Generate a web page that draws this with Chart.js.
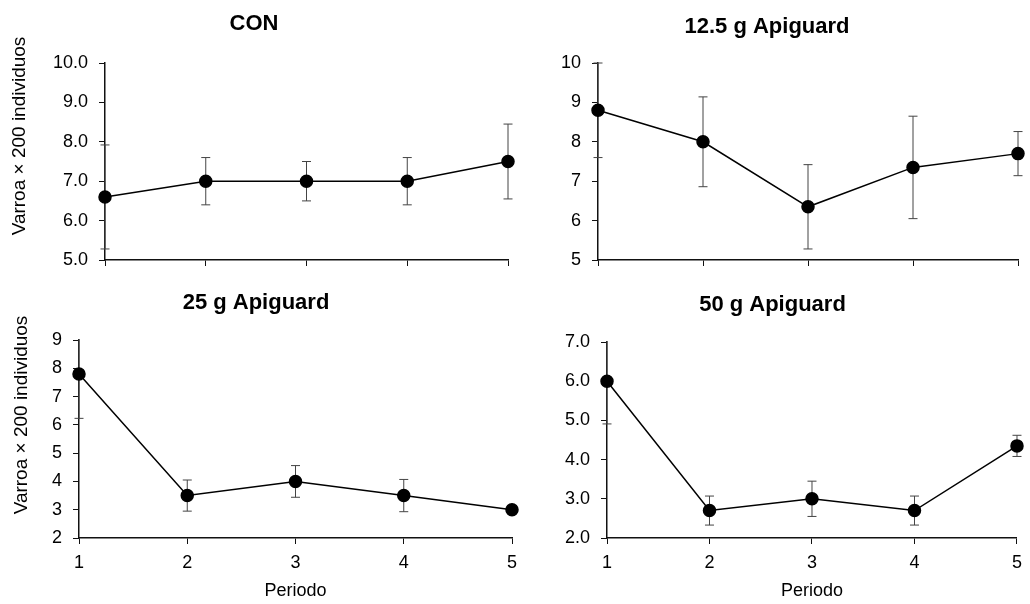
<!DOCTYPE html>
<html>
<head>
<meta charset="utf-8">
<script src="https://cdn.jsdelivr.net/npm/chart.js@4.4.1/dist/chart.umd.min.js"></script>
<style>
  body { margin: 0; background: #fff; }
  #wrap { position: relative; width: 1030px; height: 604px; overflow: hidden; }
  canvas { position: absolute; }
</style>
</head>
<body>
<div id="wrap">
  <canvas id="c1" width="536" height="290" style="left:0;top:0"></canvas>
  <canvas id="c2" width="514" height="290" style="left:516px;top:0"></canvas>
  <canvas id="c3" width="534" height="314" style="left:0;top:290px"></canvas>
  <canvas id="c4" width="504" height="314" style="left:526px;top:290px"></canvas>
</div>
<script>
const periods = ['1', '2', '3', '4', '5'];

const conMean = [6.6, 7.0, 7.0, 7.0, 7.5];
const conErr = [1.32, 0.6, 0.5, 0.6, 0.95];

const g125Mean = [8.8, 8.0, 6.35, 7.35, 7.7];
const g125Err = [1.2, 1.14, 1.07, 1.3, 0.56];

const g25Mean = [7.8, 3.5, 4.0, 3.5, 3.0];
const g25Err = [1.57, 0.55, 0.56, 0.57, 0];

const g50Mean = [6.0, 2.7, 3.0, 2.7, 4.35];
const g50Err = [1.09, 0.37, 0.45, 0.37, 0.27];

const yTicksCon = [5, 10];
const yTicks125 = [5, 10];
const yTicks25 = [2, 9];
const yTicks50 = [2, 7];

const yTitle = 'Varroa × 200 individuos';
const xTitle = 'Periodo';

const FONT = '"Liberation Sans", Arial, sans-serif';
const INK = '#111';

// vertical error bars, drawn under the line and markers
const errorBars = {
    id: 'errorBars',
    beforeDatasetsDraw(chart, args, opts) {
        const { ctx, chartArea, scales: { x, y } } = chart;
        const values = chart.data.datasets[0].data;
        ctx.save();
        ctx.beginPath();
        ctx.rect(chartArea.left - 10, chartArea.top - 1, chartArea.width + 20, chartArea.height + 1);
        ctx.clip();
        ctx.strokeStyle = '#444';
        ctx.lineWidth = 1;
        values.forEach((v, i) => {
            const e = opts.errors[i];
            if (!e) return;
            const px = x.getPixelForValue(i);
            const top = y.getPixelForValue(v + e);
            const bot = y.getPixelForValue(v - e);
            ctx.beginPath();
            ctx.moveTo(px, top); ctx.lineTo(px, bot);
            ctx.moveTo(px - 4.5, top); ctx.lineTo(px + 4.5, top);
            ctx.moveTo(px - 4.5, bot); ctx.lineTo(px + 4.5, bot);
            ctx.stroke();
        });
        ctx.restore();
    }
};

// rotated y axis caption, placed like the original figure
const sideTitle = {
    id: 'sideTitle',
    afterDraw(chart, args, opts) {
        if (!opts.text) return;
        const ctx = chart.ctx;
        ctx.save();
        ctx.translate(opts.x, opts.y);
        ctx.rotate(-Math.PI / 2);
        ctx.font = '19px ' + FONT;
        ctx.fillStyle = '#000';
        ctx.textAlign = 'center';
        ctx.textBaseline = 'middle';
        ctx.fillText(opts.text, 0, 0);
        ctx.restore();
    }
};

function makePanel(id, p) {
    new Chart(document.getElementById(id), {
        type: 'line',
        data: {
            labels: periods,
            datasets: [{
                data: p.mean,
                borderColor: '#000',
                borderWidth: 1.5,
                pointBackgroundColor: '#000',
                pointBorderColor: '#000',
                pointRadius: 6,
                tension: 0,
                clip: false,
            }]
        },
        plugins: [errorBars, sideTitle],
        options: {
            responsive: false,
            animation: false,
            events: [],
            layout: { padding: { left: 0, right: p.right, top: 0, bottom: 0 } },
            plugins: {
                legend: { display: false },
                tooltip: { enabled: false },
                title: {
                    display: true,
                    text: p.title,
                    color: '#000',
                    font: { family: FONT, size: 22, weight: 'bold' },
                    padding: { top: p.titleTop, bottom: p.titleBottom },
                },
                errorBars: { errors: p.err },
                sideTitle: p.side || {},
            },
            scales: {
                x: {
                    type: 'category',
                    offset: false,
                    afterFit: (s) => { s.height = p.xHeight; },
                    border: { display: true, color: INK, width: 1.5 },
                    grid: { drawOnChartArea: false, drawTicks: true, tickLength: 6, color: INK, offset: false },
                    ticks: {
                        display: p.showX,
                        color: '#000',
                        padding: 8,
                        font: { family: FONT, size: 18 },
                    },
                    title: {
                        display: p.showX,
                        text: xTitle,
                        color: '#000',
                        font: { family: FONT, size: 18 },
                        padding: { top: 0, bottom: 2 },
                    },
                },
                y: {
                    min: p.range[0],
                    max: p.range[1],
                    afterFit: (s) => { s.width = p.yWidth; },
                    border: { display: true, color: INK, width: 1.5 },
                    grid: { drawOnChartArea: false, drawTicks: true, tickLength: 6, color: INK },
                    ticks: {
                        stepSize: 1,
                        color: '#000',
                        padding: 11,
                        font: { family: FONT, size: 18 },
                        callback: (v) => p.decimals ? v.toFixed(1) : String(v),
                    },
                },
            },
        },
    });
}

makePanel('c1', {
    title: 'CON', mean: conMean, err: conErr, range: yTicksCon, decimals: true,
    yWidth: 105, right: 28, xHeight: 30, showX: false, titleTop: 10.8, titleBottom: 25.8,
    side: { text: yTitle, x: 20, y: 136 },
});
makePanel('c2', {
    title: '12.5 g Apiguard', mean: g125Mean, err: g125Err, range: yTicks125, decimals: false,
    yWidth: 82, right: 12, xHeight: 30, showX: false, titleTop: 13.8, titleBottom: 22.8,
});
makePanel('c3', {
    title: '25 g Apiguard', mean: g25Mean, err: g25Err, range: yTicks25, decimals: false,
    yWidth: 79, right: 22, xHeight: 66, showX: true, titleTop: 0, titleBottom: 23.6,
    side: { text: yTitle, x: 22, y: 125 },
});
makePanel('c4', {
    title: '50 g Apiguard', mean: g50Mean, err: g50Err, range: yTicks50, decimals: true,
    yWidth: 81, right: 11, xHeight: 66, showX: true, titleTop: 1.8, titleBottom: 23.8,
});
</script>
</body>
</html>
